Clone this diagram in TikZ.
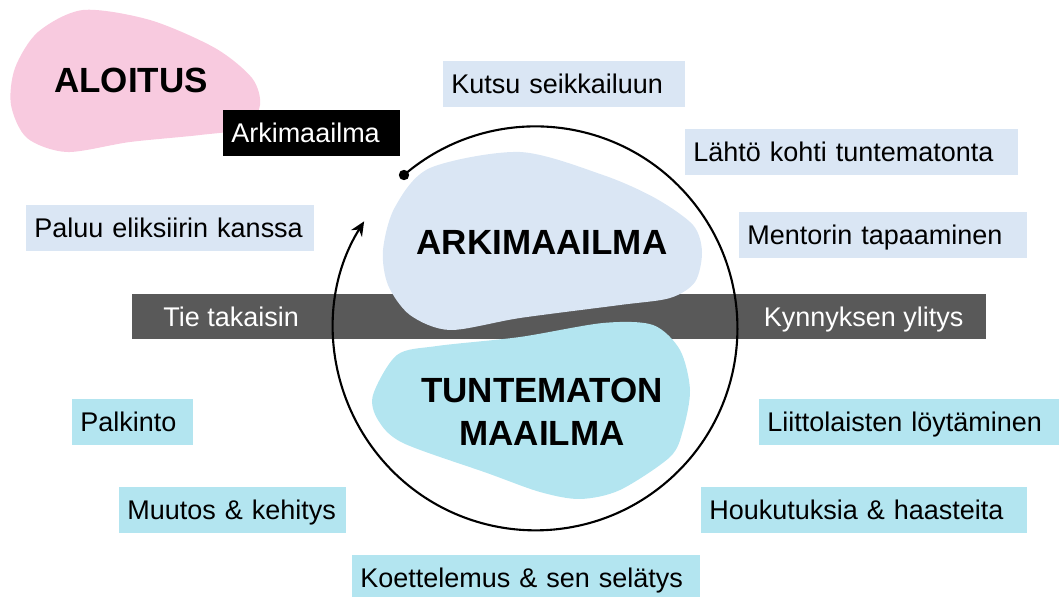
\documentclass[tikz,border=0pt]{standalone}
\usepackage{fontspec}
\setmainfont{Liberation Sans}
\usetikzlibrary{arrows.meta}
\definecolor{paleblue}{HTML}{DAE6F4}
\definecolor{lightcyan}{HTML}{B3E5F0}
\definecolor{blobpink}{HTML}{F8CADF}
\definecolor{bandgray}{HTML}{595959}

\begin{document}
\begin{tikzpicture}[
        x=0.25mm, y=-0.25mm,
        stage/.style={anchor=north west, minimum height=11.5mm, inner xsep=2mm, inner ysep=0pt,
            text height=13.7pt, text depth=0pt, align=left, font=\fontsize{19.2}{23}\selectfont},
        before/.style={stage, fill=paleblue},
        after/.style={stage, fill=lightcyan},
        crossing/.style={text=white, inner xsep=2mm, inner ysep=0pt, text height=13.7pt, text depth=0pt,
            font=\fontsize{19.2}{23}\selectfont},
        title/.style={align=center, inner sep=0pt, font=\fontsize{24.9}{30.6}\selectfont\bfseries},
        journey/.style={line width=1.5pt, -{Stealth[length=3.6mm, width=3.2mm]}},
    ]
    \useasboundingbox (0,0) rectangle (1059,597);

    % blobs and the threshold band
    \fill[blobpink] plot[smooth cycle] coordinates {(83,10) (150,20) (215,48) (252,78) (260,105) (245,128)
        (200,135) (130,142) (67,152) (27,138) (11,105) (15,68) (38,32)};
    \node[fill=bandgray, anchor=north west, minimum width=213.5mm, minimum height=11.25mm, inner sep=0pt] (band) at (132,294) {};
    \fill[paleblue] plot[smooth cycle] coordinates {(520,152) (603,175) (655,198) (693,225) (702,252) (695,282)
        (670,298) (620,305) (520,318) (450,330) (410,315) (388,285) (383,250) (395,207) (430,168)};
    \fill[lightcyan] plot[smooth cycle] coordinates {(373,395) (397,355) (437,346) (520,337) (603,323) (653,325)
        (680,350) (690,390) (683,430) (670,457) (620,490) (580,499) (540,492) (487,473) (403,443) (378,420)};

    \node[crossing, anchor=west] (back) at ([xshift=5.75mm]band.west) {Tie takaisin};
    \node[crossing, anchor=east] (threshold) at ([xshift=-3.75mm]band.east) {Kynnyksen ylitys};

    % the journey round the circle
    \coordinate (hub) at (535,328);
    \coordinate (start) at (404,175);
    \draw[journey] (start) arc[start angle=130.6, end angle=-212, radius=50.5mm];
    \fill (start) circle[radius=1.3mm];

    \node[title] (aloitus) at (131,80) {ALOITUS};
    \node[title] (ordinary) at (542,242) {ARKIMAAILMA};
    \node[title] (unknown) at (542,412) {TUNTEMATON\\MAAILMA};

    \node[stage, fill=black, text=white, text width=40.25mm] (arki) at (223,110) {Arkimaailma};
    \node[before, text width=56.5mm] (kutsu) at (443,61) {Kutsu seikkailuun};
    \node[before, text width=79.25mm] (lahto) at (685,129) {Lähtö kohti tuntematonta};
    \node[before, text width=68mm] (mentori) at (739,212) {Mentorin tapaaminen};
    \node[before, text width=68mm] (paluu) at (26,205) {Paluu eliksiirin kanssa};
    \node[after, text width=26.25mm] (palkinto) at (72,399) {Palkinto};
    \node[after, text width=71mm] (liitto) at (759,399) {Liittolaisten löytäminen};
    \node[after, text width=52.75mm] (muutos) at (119,487) {Muutos \& kehitys};
    \node[after, text width=77.5mm] (houkutus) at (701,487) {Houkutuksia \& haasteita};
    \node[after, text width=83mm] (koettelu) at (352,555) {Koettelemus \& sen selätys};
\end{tikzpicture}
\end{document}
